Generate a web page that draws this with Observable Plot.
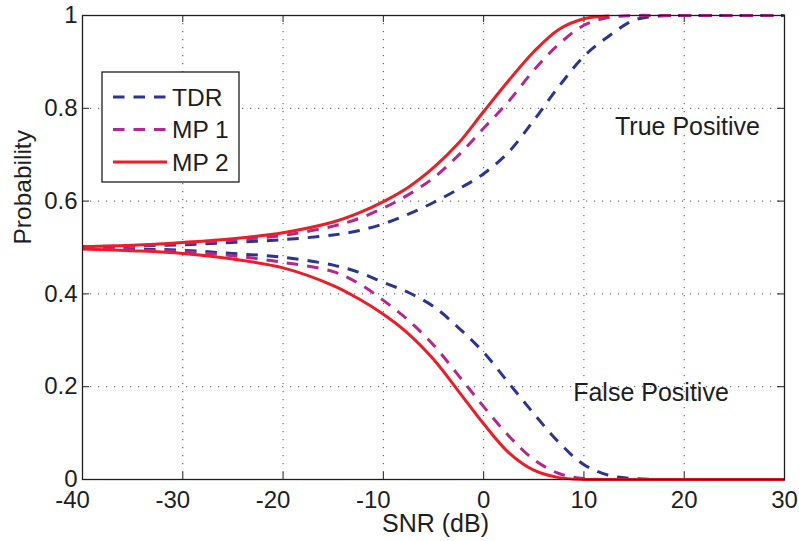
<!DOCTYPE html>
<html>
<head>
<meta charset="utf-8">
<script src="https://cdn.jsdelivr.net/npm/d3@7"></script>
<script src="https://cdn.jsdelivr.net/npm/@observablehq/plot@0.6"></script>
<style>
  html, body { margin: 0; padding: 0; background: #fff; }
  #chart { width: 799px; height: 541px; }
</style>
</head>
<body>
<div id="chart"></div>
<script>
// ---- data ----
const snr = [-40, -35, -30, -25, -20, -15, -12.5, -10, -7.5, -5, -2.5, 0, 2.5, 5, 7.5, 10, 12.5, 15, 17.5, 20, 25, 30];

const tdrTP = [0.501, 0.503, 0.506, 0.511, 0.517, 0.527, 0.536, 0.551, 0.572, 0.597, 0.626, 0.659, 0.706, 0.774, 0.847, 0.912, 0.956, 0.990, 0.999, 1, 1, 1];
const mp1TP = [0.502, 0.504, 0.509, 0.516, 0.526, 0.546, 0.562, 0.585, 0.614, 0.650, 0.699, 0.757, 0.815, 0.882, 0.938, 0.979, 0.996, 1, 1, 1, 1, 1];
const mp2TP = [0.502, 0.505, 0.511, 0.519, 0.532, 0.555, 0.574, 0.599, 0.630, 0.672, 0.725, 0.793, 0.860, 0.922, 0.970, 0.993, 0.999, null, null, null, null, null];

const tdrFP = [0.499, 0.497, 0.494, 0.487, 0.479, 0.462, 0.447, 0.425, 0.403, 0.373, 0.327, 0.274, 0.208, 0.142, 0.080, 0.032, 0.009, 0.002, 0, 0, 0, 0];
const mp1FP = [0.498, 0.495, 0.491, 0.482, 0.468, 0.448, 0.423, 0.386, 0.343, 0.290, 0.224, 0.157, 0.094, 0.043, 0.013, 0.002, 0, 0, 0, 0, 0, 0];
const mp2FP = [0.497, 0.493, 0.487, 0.475, 0.456, 0.418, 0.390, 0.356, 0.314, 0.259, 0.190, 0.120, 0.058, 0.020, 0.004, 0, 0, 0, 0, 0, 0, 0];

const seriesNames = ["TDR", "MP 1", "MP 2"];
const xTicks = [-40, -30, -20, -10, 0, 10, 20, 30];
const yTicks = [0, 0.2, 0.4, 0.6, 0.8, 1];
const annotations = ["True Positive", "False Positive"];

// ---- styles ----
const colors = ["#2b3491", "#b5268f", "#ee1c25"];
const dashes = ["11.5,9", "11.5,9", null];
const ink = "#1e1e1e";
const font = "'Liberation Sans', Arial, Helvetica, sans-serif";

const toRows = (vals) => snr.map((x, i) => ({x, y: vals[i]})).filter(d => d.y !== null);
const curves = [
  {s: 0, data: toRows(tdrTP)}, {s: 0, data: toRows(tdrFP)},
  {s: 1, data: toRows(mp1TP)}, {s: 1, data: toRows(mp1FP)},
  {s: 2, data: toRows(mp2TP)}, {s: 2, data: toRows(mp2FP)}
];

const W = 799, H = 541;
const mL = 82, mR = 15, mT = 15, mB = 62;
const tickLenX = 7 * 70 / (W - mL - mR);
const tickLenY = 7 / (H - mT - mB);

const plot = Plot.plot({
  width: W,
  height: H,
  marginLeft: mL,
  marginRight: mR,
  marginTop: mT,
  marginBottom: mB,
  style: {fontFamily: font, fontSize: "24px", color: ink, background: "#fff"},
  x: {domain: [-40, 30], label: null},
  y: {domain: [0, 1], label: null},
  marks: [
    Plot.gridX(xTicks, {stroke: "#3a3a3a", strokeOpacity: 0.9, strokeWidth: 1, strokeDasharray: "1.2,6.8"}),
    Plot.gridY(yTicks, {stroke: "#3a3a3a", strokeOpacity: 0.9, strokeWidth: 1, strokeDasharray: "1.2,6.8"}),
    // inward tick marks (bottom, top, left, right)
    Plot.ruleX(xTicks, {x: d => d, y1: 0, y2: tickLenY, stroke: ink, strokeWidth: 1}),
    Plot.ruleX(xTicks, {x: d => d, y1: 1 - tickLenY, y2: 1, stroke: ink, strokeWidth: 1}),
    Plot.ruleY(yTicks, {y: d => d, x1: -40, x2: -40 + tickLenX, stroke: ink, strokeWidth: 1}),
    Plot.ruleY(yTicks, {y: d => d, x1: 30 - tickLenX, x2: 30, stroke: ink, strokeWidth: 1}),
    ...curves.map(c => Plot.line(c.data, {
      x: "x", y: "y", curve: "catmull-rom",
      stroke: colors[c.s], strokeWidth: 3,
      strokeDasharray: dashes[c.s], strokeLinecap: "butt", strokeLinejoin: "round"
    })),
    Plot.frame({stroke: ink, strokeWidth: 1.3}),
    Plot.axisY(yTicks, {tickSize: 0, tickPadding: 5, tickFormat: d => String(d), fill: ink, fontSize: 24}),
    Plot.axisX(xTicks.filter(d => d < 0), {tickSize: 0, tickPadding: 11, dx: -10, tickFormat: d => String(d), fill: ink, fontSize: 24}),
    Plot.axisX(xTicks.filter(d => d >= 0), {tickSize: 0, tickPadding: 11, tickFormat: d => String(d), fill: ink, fontSize: 24}),
    Plot.text([annotations[0]], {x: 13.1, y: 0.7435, text: d => d, textAnchor: "start", lineAnchor: "bottom", fill: ink, fontSize: 25}),
    Plot.text([annotations[1]], {x: 8.93, y: 0.169, text: d => d, textAnchor: "start", lineAnchor: "bottom", fill: ink, fontSize: 25}),
    Plot.text(["SNR (dB)"], {frameAnchor: "bottom", dx: 2, dy: 52, lineAnchor: "bottom", fill: ink, fontSize: 25}),
    Plot.text(["Probability"], {frameAnchor: "left", dx: -52, dy: -3, rotate: -90, lineAnchor: "bottom", fill: ink, fontSize: 24.5})
  ]
});

// ---- legend (boxed, inside the axes, upper left) ----
const svg = d3.select(plot);
const lg = svg.append("g").attr("class", "legend");
lg.append("rect")
  .attr("x", 102).attr("y", 72).attr("width", 137).attr("height", 110)
  .attr("fill", "#fff").attr("stroke", ink).attr("stroke-width", 1.3);
seriesNames.forEach((name, i) => {
  const yy = 97 + i * 32.5;
  lg.append("line")
    .attr("x1", 113).attr("x2", 167).attr("y1", yy).attr("y2", yy)
    .attr("stroke", colors[i]).attr("stroke-width", 3)
    .attr("stroke-dasharray", dashes[i] || null);
  lg.append("text")
    .attr("x", 172).attr("y", yy).attr("dy", "0.35em")
    .attr("text-anchor", "start")
    .attr("fill", ink).attr("font-size", 24.5).attr("font-family", font)
    .text(name);
});

document.getElementById("chart").appendChild(plot);
</script>
</body>
</html>
